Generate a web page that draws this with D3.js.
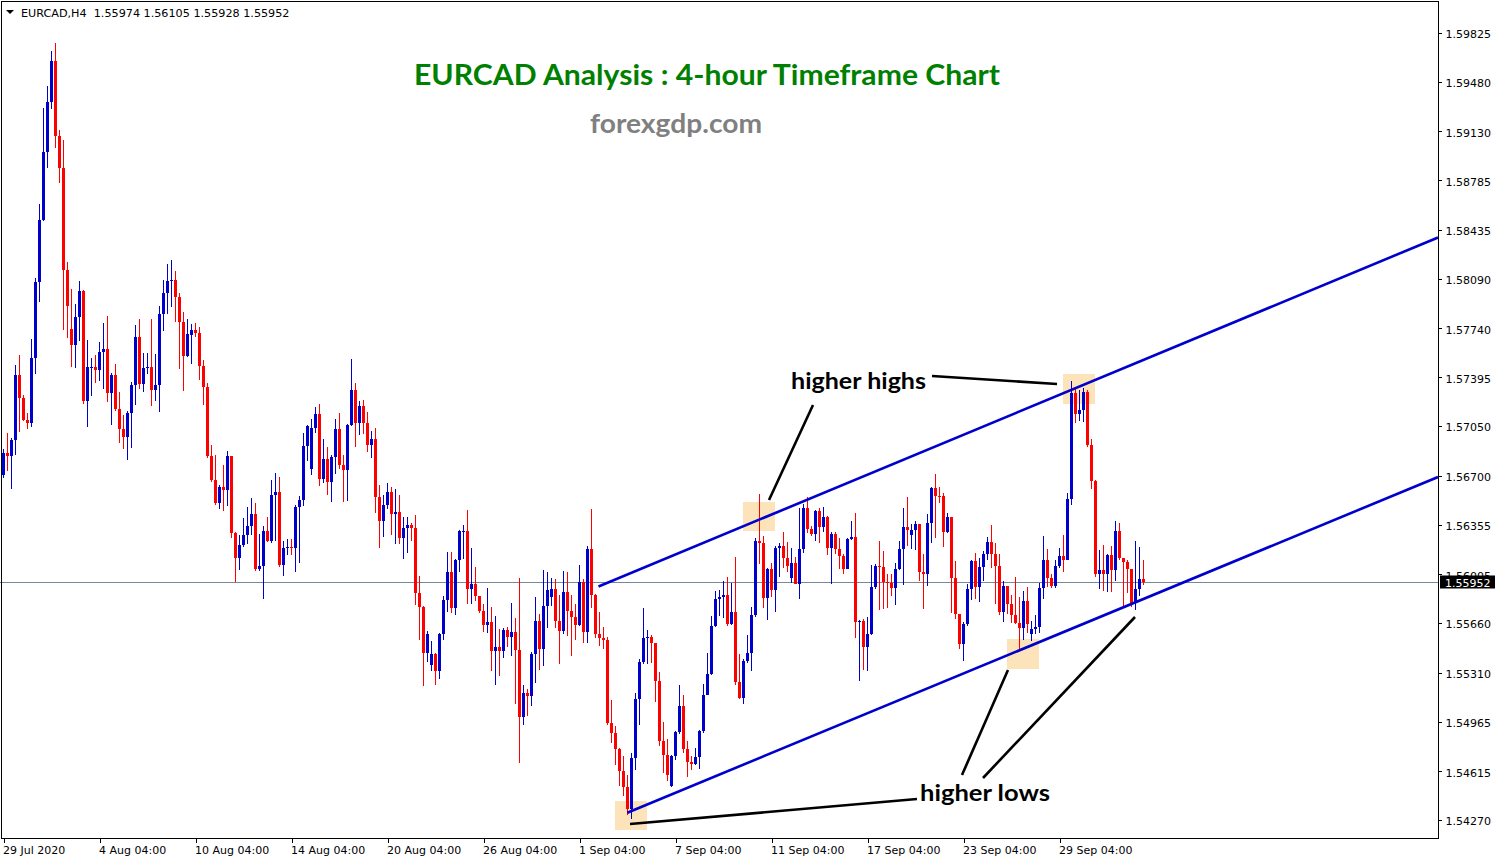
<!DOCTYPE html>
<html>
<head>
<meta charset="utf-8">
<script src="https://cdn.jsdelivr.net/npm/d3@7"></script>
<style>
  html, body { margin: 0; padding: 0; background: #fff; }
  svg { display: block; }
</style>
</head>
<body>
<svg id="chart" width="1502" height="862"></svg>
<script>
// ---------------- DATA ----------------
const symbolHeader = "EURCAD,H4  1.55974 1.56105 1.55928 1.55952";
const titleText = "EURCAD Analysis : 4-hour Timeframe Chart";
const siteText = "forexgdp.com";

// H4 closes, one per bar (29 Jul 2020 04:00 onward)
const closes = [
1.56860,1.56835,1.56950,1.57410,1.57245,1.57091,1.57073,1.57528,1.58066,1.58503,
1.58983,1.59337,1.59624,1.59093,1.58867,1.58149,1.57895,1.57625,1.57818,1.58002,
1.57227,1.57463,1.57469,1.57443,1.57571,1.57592,1.57284,1.57412,1.57173,1.57032,
1.56971,1.57143,1.57340,1.57676,1.57348,1.57458,1.57469,1.57304,1.57340,1.57841,
1.57989,1.58072,1.58079,1.57959,1.57784,1.57546,1.57700,1.57728,1.57709,1.57474,
1.57328,1.56839,1.56667,1.56507,1.56620,1.56599,1.56839,1.56298,1.56121,1.56211,
1.56281,1.56345,1.56429,1.56044,1.56062,1.56309,1.56241,1.56563,1.56585,1.56069,
1.56189,1.56196,1.56189,1.56479,1.56528,1.56909,1.57050,1.57036,1.57135,1.56676,
1.56817,1.56655,1.56831,1.57029,1.56775,1.56740,1.57057,1.57304,1.57071,1.57191,
1.57071,1.56916,1.56958,1.56549,1.56380,1.56493,1.56585,1.56430,1.56444,1.56260,
1.56330,1.56352,1.56331,1.55872,1.55774,1.55449,1.55583,1.55442,1.55322,1.55583,
1.55823,1.56020,1.55766,1.56105,1.56310,1.56312,1.55901,1.55936,1.55851,1.55745,
1.55646,1.55668,1.55463,1.55491,1.55463,1.55611,1.55562,1.55597,1.55470,1.54997,
1.55167,1.55146,1.55442,1.55675,1.55477,1.55781,1.55893,1.55901,1.55675,1.55604,
1.55879,1.55745,1.55703,1.55646,1.55950,1.55597,1.56183,1.55858,1.55583,1.55555,
1.55541,1.54955,1.54884,1.54772,1.54616,1.54503,1.54348,1.54708,1.55124,1.55385,
1.55555,1.55562,1.55519,1.55251,1.54828,1.54729,1.54588,1.54722,1.54892,1.55075,
1.54772,1.54680,1.54666,1.54715,1.54899,1.55153,1.55301,1.55639,1.55830,1.55840,
1.55858,1.55654,1.55738,1.55244,1.55131,1.55392,1.55449,1.55717,1.56239,1.56225,
1.55834,1.56039,1.55893,1.56187,1.56203,1.56121,1.56062,1.56086,1.55937,1.56180,
1.56474,1.56326,1.56290,1.56450,1.56340,1.56408,1.56191,1.56290,1.56180,1.56133,
1.56043,1.56250,1.56267,1.55669,1.55674,1.55493,1.55580,1.55914,1.56062,1.56055,
1.55952,1.55945,1.55909,1.56039,1.56180,1.56337,1.56316,1.56316,1.56361,1.56022,
1.56003,1.56363,1.56610,1.56558,1.56554,1.56304,1.56408,1.55980,1.55721,1.55510,
1.55656,1.55898,1.56098,1.55917,1.56055,1.56150,1.56232,1.56145,1.56063,1.55740,
1.55921,1.55797,1.55717,1.55663,1.55627,1.55816,1.55651,1.55620,1.55632,1.55905,
1.56103,1.55975,1.55921,1.56063,1.56133,1.56105,1.56533,1.57281,1.57137,1.57163,
1.57290,1.56916,1.56662,1.56004,1.56032,1.56004,1.56140,1.56032,1.56309,1.56121,
1.56093,1.56039,1.55804,1.55903,1.55974,1.55952
];

const highs = [
1.56891,1.57002,1.56963,1.57481,1.57553,1.57271,1.57143,1.57664,1.58097,1.58616,
1.59293,1.59452,1.59696,1.59752,1.59139,1.59067,1.58208,1.58015,1.57912,1.58072,
1.58010,1.57656,1.57528,1.57553,1.57643,1.57779,1.57828,1.57425,1.57489,1.57289,
1.57125,1.57156,1.57361,1.57764,1.57805,1.57566,1.57566,1.57805,1.57558,1.57900,
1.58079,1.58195,1.58220,1.58143,1.57989,1.57856,1.57805,1.57770,1.57779,1.57749,
1.57516,1.57356,1.56916,1.56846,1.56634,1.56775,1.56874,1.56839,1.56302,1.56281,
1.56403,1.56479,1.56542,1.56507,1.56288,1.56345,1.56408,1.56669,1.56719,1.56690,
1.56239,1.56253,1.56253,1.56493,1.56556,1.57003,1.57055,1.57100,1.57184,1.57205,
1.56958,1.56902,1.56846,1.57100,1.57142,1.56846,1.57064,1.57523,1.57354,1.57227,
1.57234,1.57149,1.57015,1.57036,1.56634,1.56563,1.56648,1.56620,1.56604,1.56564,
1.56409,1.56409,1.56366,1.56423,1.55992,1.55781,1.55604,1.55534,1.55449,1.55590,
1.55851,1.56162,1.56162,1.56112,1.56317,1.56352,1.56458,1.56190,1.56056,1.55844,
1.55795,1.55908,1.55774,1.55710,1.55618,1.55625,1.55632,1.55802,1.55696,1.55978,
1.55223,1.55195,1.55456,1.55844,1.55724,1.56035,1.56020,1.55978,1.55971,1.55858,
1.56028,1.56020,1.55858,1.55795,1.56070,1.55971,1.56204,1.56465,1.55865,1.55738,
1.55632,1.55562,1.55117,1.54934,1.54779,1.54722,1.54588,1.54743,1.55167,1.55407,
1.55766,1.55611,1.55576,1.55519,1.55315,1.54962,1.54842,1.54729,1.54899,1.55223,
1.55153,1.54828,1.54722,1.54779,1.54906,1.55230,1.55449,1.55710,1.55886,1.55893,
1.55957,1.55985,1.55943,1.56126,1.55442,1.55407,1.55576,1.55774,1.56263,1.56571,
1.56274,1.56045,1.56086,1.56203,1.56227,1.56304,1.56234,1.56187,1.56128,1.56474,
1.56497,1.56549,1.56344,1.56455,1.56474,1.56478,1.56415,1.56304,1.56304,1.56262,
1.56149,1.56262,1.56380,1.56438,1.55679,1.55686,1.55705,1.56072,1.56074,1.56239,
1.56168,1.56003,1.56008,1.56086,1.56239,1.56474,1.56551,1.56356,1.56380,1.56361,
1.56144,1.56431,1.56620,1.56709,1.56620,1.56580,1.56434,1.56408,1.56098,1.55721,
1.55670,1.55933,1.56103,1.56157,1.56121,1.56168,1.56267,1.56352,1.56227,1.56150,
1.55957,1.55914,1.55856,1.55985,1.55844,1.55886,1.55914,1.55674,1.55714,1.55945,
1.56274,1.56185,1.56008,1.56103,1.56192,1.56281,1.56580,1.57368,1.57309,1.57302,
1.57316,1.57302,1.56956,1.56667,1.56173,1.56211,1.56150,1.56204,1.56380,1.56364,
1.56121,1.56103,1.56039,1.56239,1.56199,1.56105
];

const lows = [
1.56686,1.56732,1.56604,1.56848,1.57007,1.57084,1.57032,1.57045,1.57417,1.57925,
1.58498,1.58870,1.59285,1.59011,1.58764,1.57728,1.57669,1.57469,1.57458,1.57651,
1.57207,1.57045,1.57263,1.57356,1.57368,1.57309,1.57220,1.57058,1.57156,1.56932,
1.56891,1.56809,1.56894,1.57199,1.57309,1.57289,1.57417,1.57194,1.57227,1.57150,
1.57720,1.57843,1.57887,1.57784,1.57451,1.57297,1.57535,1.57490,1.57681,1.57377,
1.57198,1.56822,1.56655,1.56493,1.56467,1.56450,1.56486,1.56262,1.55949,1.56034,
1.56196,1.56215,1.56283,1.56027,1.56027,1.55832,1.56235,1.56225,1.56239,1.56055,
1.55992,1.56140,1.56140,1.56020,1.56084,1.56486,1.56803,1.56704,1.57001,1.56627,
1.56648,1.56563,1.56514,1.56712,1.56747,1.56514,1.56521,1.57050,1.56902,1.56987,
1.56994,1.56867,1.56824,1.56436,1.56189,1.56267,1.56462,1.56282,1.56218,1.56218,
1.56112,1.56155,1.56239,1.55788,1.55541,1.55216,1.55385,1.55322,1.55223,1.55265,
1.55541,1.55738,1.55731,1.55717,1.56020,1.56112,1.55795,1.55795,1.55816,1.55731,
1.55597,1.55590,1.55322,1.55223,1.55287,1.55414,1.55491,1.55428,1.55089,1.54673,
1.54941,1.55004,1.55075,1.55237,1.55329,1.55357,1.55625,1.55781,1.55625,1.55371,
1.55583,1.55569,1.55428,1.55541,1.55639,1.55519,1.55519,1.55766,1.55555,1.55498,
1.55477,1.54941,1.54814,1.54659,1.54510,1.54440,1.54306,1.54278,1.54623,1.54941,
1.55371,1.55371,1.55378,1.55103,1.54793,1.54602,1.54546,1.54500,1.54694,1.54877,
1.54743,1.54574,1.54623,1.54659,1.54630,1.54885,1.55150,1.55294,1.55632,1.55710,
1.55696,1.55639,1.55646,1.55223,1.55124,1.55089,1.55378,1.55322,1.55703,1.56077,
1.55768,1.55681,1.55846,1.55740,1.55987,1.56050,1.56022,1.55940,1.55933,1.55832,
1.56156,1.56293,1.56274,1.56239,1.56227,1.56304,1.56137,1.55933,1.56144,1.56039,
1.56003,1.56043,1.56248,1.55556,1.55251,1.55326,1.55321,1.55575,1.55897,1.55752,
1.55761,1.55768,1.55853,1.55787,1.56034,1.55926,1.56203,1.56180,1.56175,1.55956,
1.55761,1.55921,1.56227,1.56262,1.56509,1.56196,1.56297,1.55733,1.55686,1.55475,
1.55392,1.55639,1.55820,1.55827,1.55811,1.55957,1.56103,1.56051,1.55792,1.55717,
1.55670,1.55721,1.55663,1.55656,1.55467,1.55538,1.55592,1.55533,1.55585,1.55592,
1.55827,1.55914,1.55910,1.55910,1.56046,1.56023,1.56103,1.56491,1.57069,1.57086,
1.57079,1.56902,1.56603,1.55985,1.55898,1.55886,1.55881,1.55879,1.55957,1.56103,
1.55780,1.55874,1.55773,1.55750,1.55851,1.55928
];

// opening prices that differ from the prior close (first bar and Monday gaps): [bar, open]
const gapOpens = [
  [0, 1.56706], [17, 1.57733], [47, 1.57695], [77, 1.56747], [107, 1.55364],
  [137, 1.55844], [167, 1.54510], [197, 1.55980], [227, 1.56281], [257, 1.55580]
];

const currentPrice = 1.55952;

const priceTicks = [1.59825,1.59480,1.59130,1.58785,1.58435,1.58090,1.57740,1.57395,
  1.57050,1.56700,1.56355,1.56005,1.55660,1.55310,1.54965,1.54615,1.54270];

const timeTickBars = [0,24,48,72,96,120,144,168,192,216,240,264];
const timeTickLabels = ["29 Jul 2020","4 Aug 04:00","10 Aug 04:00","14 Aug 04:00",
  "20 Aug 04:00","26 Aug 04:00","1 Sep 04:00","7 Sep 04:00","11 Sep 04:00",
  "17 Sep 04:00","23 Sep 04:00","29 Sep 04:00"];

// channel lines: [bar, price] endpoints
const upperChannel = [[148.75, 1.559176], [358.625, 1.583800]];
const lowerChannel = [[155.95, 1.543215], [358.625, 1.566901]];

// highlight zones: [bar0, bar1, priceTop, priceBottom]
const highlightZones = [
  [184.875, 192.875, 1.565138, 1.563092],
  [264.875, 272.875, 1.574169, 1.572052],
  [250.875, 258.875, 1.555471, 1.553355],
  [152.875, 160.875, 1.544041, 1.541995]
];

// pointer lines: [[bar, price], [bar, price]]
const pointerLines = [
  [[191.375, 1.565279], [202.375, 1.571982]],
  [[232.125, 1.574027], [263.375, 1.573463]],
  [[156.625, 1.542418], [228.375, 1.544182]],
  [[239.625, 1.545876], [251.125, 1.553284]],
  [[244.875, 1.545664], [282.875, 1.557023]]
];

// ---------------- BUILD ----------------
const gapMap = new Map(gapOpens);
const bars = closes.map((c, i) => ({
  i,
  o: gapMap.has(i) ? gapMap.get(i) : closes[i - 1],
  h: highs[i], l: lows[i], c
}));

const svg = d3.select("#chart");
const plotW = 1438, plotH = 838;

const x = d3.scaleLinear().domain([-0.875, 358.625]).range([0, plotW]);
const y = d3.scaleLinear().domain([1.541431, 1.600486]).range([plotH, 1]);

const BULL = "#0000cd", BEAR = "#ff0000";

svg.append("rect").attr("width", 1502).attr("height", 862).attr("fill", "#fff");

svg.append("defs").append("clipPath").attr("id", "plotClip")
  .append("rect").attr("x", 0).attr("y", 0).attr("width", plotW).attr("height", plotH);

const plot = svg.append("g").attr("clip-path", "url(#plotClip)");

// highlight zones
plot.append("g").selectAll("rect").data(highlightZones).join("rect")
  .attr("x", d => x(d[0])).attr("width", d => x(d[1]) - x(d[0]))
  .attr("y", d => y(d[2])).attr("height", d => y(d[3]) - y(d[2]))
  .attr("fill", "#fde3b9");

// current price line
const cpY = Math.round(y(currentPrice)) + 0.5;
plot.append("line").attr("x1", 0).attr("x2", plotW).attr("y1", cpY).attr("y2", cpY)
  .attr("stroke", "#778899").attr("stroke-width", 1).attr("shape-rendering", "crispEdges");

// candles
const cg = plot.append("g").attr("shape-rendering", "crispEdges");
const candle = cg.selectAll("g").data(bars).join("g")
  .attr("fill", d => d.c >= d.o ? BULL : BEAR);
candle.append("rect")
  .attr("x", d => Math.round(x(d.i) - 0.5)).attr("width", 1)
  .attr("y", d => Math.round(y(Math.max(d.h, d.o, d.c))))
  .attr("height", d => Math.max(1, Math.round(y(Math.min(d.l, d.o, d.c))) - Math.round(y(Math.max(d.h, d.o, d.c)))));
candle.append("rect")
  .attr("x", d => Math.round(x(d.i) - 1.5)).attr("width", 3)
  .attr("y", d => Math.round(y(Math.max(d.o, d.c))))
  .attr("height", d => Math.max(1, Math.round(y(Math.min(d.o, d.c))) - Math.round(y(Math.max(d.o, d.c)))));

// channel lines
const line = d3.line().x(d => x(d[0])).y(d => y(d[1]));
plot.append("g").selectAll("path").data([upperChannel, lowerChannel]).join("path")
  .attr("d", line).attr("fill", "none").attr("stroke", "#0000cd").attr("stroke-width", 2.6);

// pointer lines
plot.append("g").selectAll("path").data(pointerLines).join("path")
  .attr("d", line).attr("fill", "none").attr("stroke", "#000").attr("stroke-width", 2.6);

// border
svg.append("rect").attr("x", 1.5).attr("y", 1.5).attr("width", plotW - 1).attr("height", plotH - 1)
  .attr("fill", "none").attr("stroke", "#000").attr("stroke-width", 1).attr("shape-rendering", "crispEdges");

// axes
const axisFont = "'DejaVu Sans', Verdana, sans-serif";
const ax = svg.append("g").attr("transform", `translate(0,${plotH + 0.5})`)
  .call(d3.axisBottom(x).tickValues(timeTickBars)
    .tickFormat((d, k) => timeTickLabels[k]).tickSize(4).tickSizeOuter(0));
ax.select(".domain").remove();
ax.selectAll("line").attr("stroke", "#000").attr("shape-rendering", "crispEdges");
ax.selectAll("text").attr("text-anchor", "start").attr("x", -1).attr("y", 7.5)
  .attr("fill", "#000").style("font-family", axisFont).style("font-size", "11px");

const ay = svg.append("g").attr("transform", `translate(${plotW + 0.5},0)`)
  .call(d3.axisRight(y).tickValues(priceTicks).tickFormat(d3.format(".5f")).tickSize(3).tickSizeOuter(0));
ay.select(".domain").remove();
ay.selectAll("line").attr("stroke", "#000").attr("shape-rendering", "crispEdges");
ay.selectAll("text").attr("x", 7).attr("dy", "0.45em").attr("fill", "#000")
  .style("font-family", axisFont).style("font-size", "11px");

// current price label
const cpRaw = y(currentPrice);
svg.append("rect").attr("x", 1440).attr("y", Math.round(cpRaw) - 6.5).attr("width", 55).attr("height", 13)
  .attr("fill", "#000");
svg.append("text").attr("x", 1445).attr("y", Math.round(cpRaw) + 4.5)
  .attr("fill", "#fff").style("font-family", axisFont).style("font-size", "11px")
  .text(d3.format(".5f")(currentPrice));

// header
svg.append("path").attr("d", "M6,10 L14,10 L10,14 Z").attr("fill", "#000");
svg.append("text").attr("x", 21).attr("y", 17).attr("fill", "#000")
  .style("font-family", axisFont).style("font-size", "11.2px").style("white-space", "pre")
  .attr("xml:space", "preserve").text(symbolHeader);

// titles
const annFont = "Lato, 'Open Sans', sans-serif";
svg.append("text").attr("x", 414).attr("y", 84.5).attr("fill", "#008000")
  .style("font-family", annFont).style("font-weight", 700).style("font-size", "28px")
  .attr("textLength", 586).attr("lengthAdjust", "spacingAndGlyphs").text(titleText);
svg.append("text").attr("x", 590).attr("y", 132.5).attr("fill", "#808080")
  .style("font-family", annFont).style("font-weight", 700).style("font-size", "27px")
  .attr("textLength", 172).attr("lengthAdjust", "spacingAndGlyphs").text(siteText);
svg.append("text").attr("x", 791).attr("y", 388.5).attr("fill", "#000")
  .style("font-family", annFont).style("font-weight", 700).style("font-size", "23px")
  .attr("textLength", 135).attr("lengthAdjust", "spacingAndGlyphs").text("higher highs");
svg.append("text").attr("x", 920).attr("y", 801).attr("fill", "#000")
  .style("font-family", annFont).style("font-weight", 700).style("font-size", "23px")
  .attr("textLength", 130).attr("lengthAdjust", "spacingAndGlyphs").text("higher lows");
</script>
</body>
</html>
